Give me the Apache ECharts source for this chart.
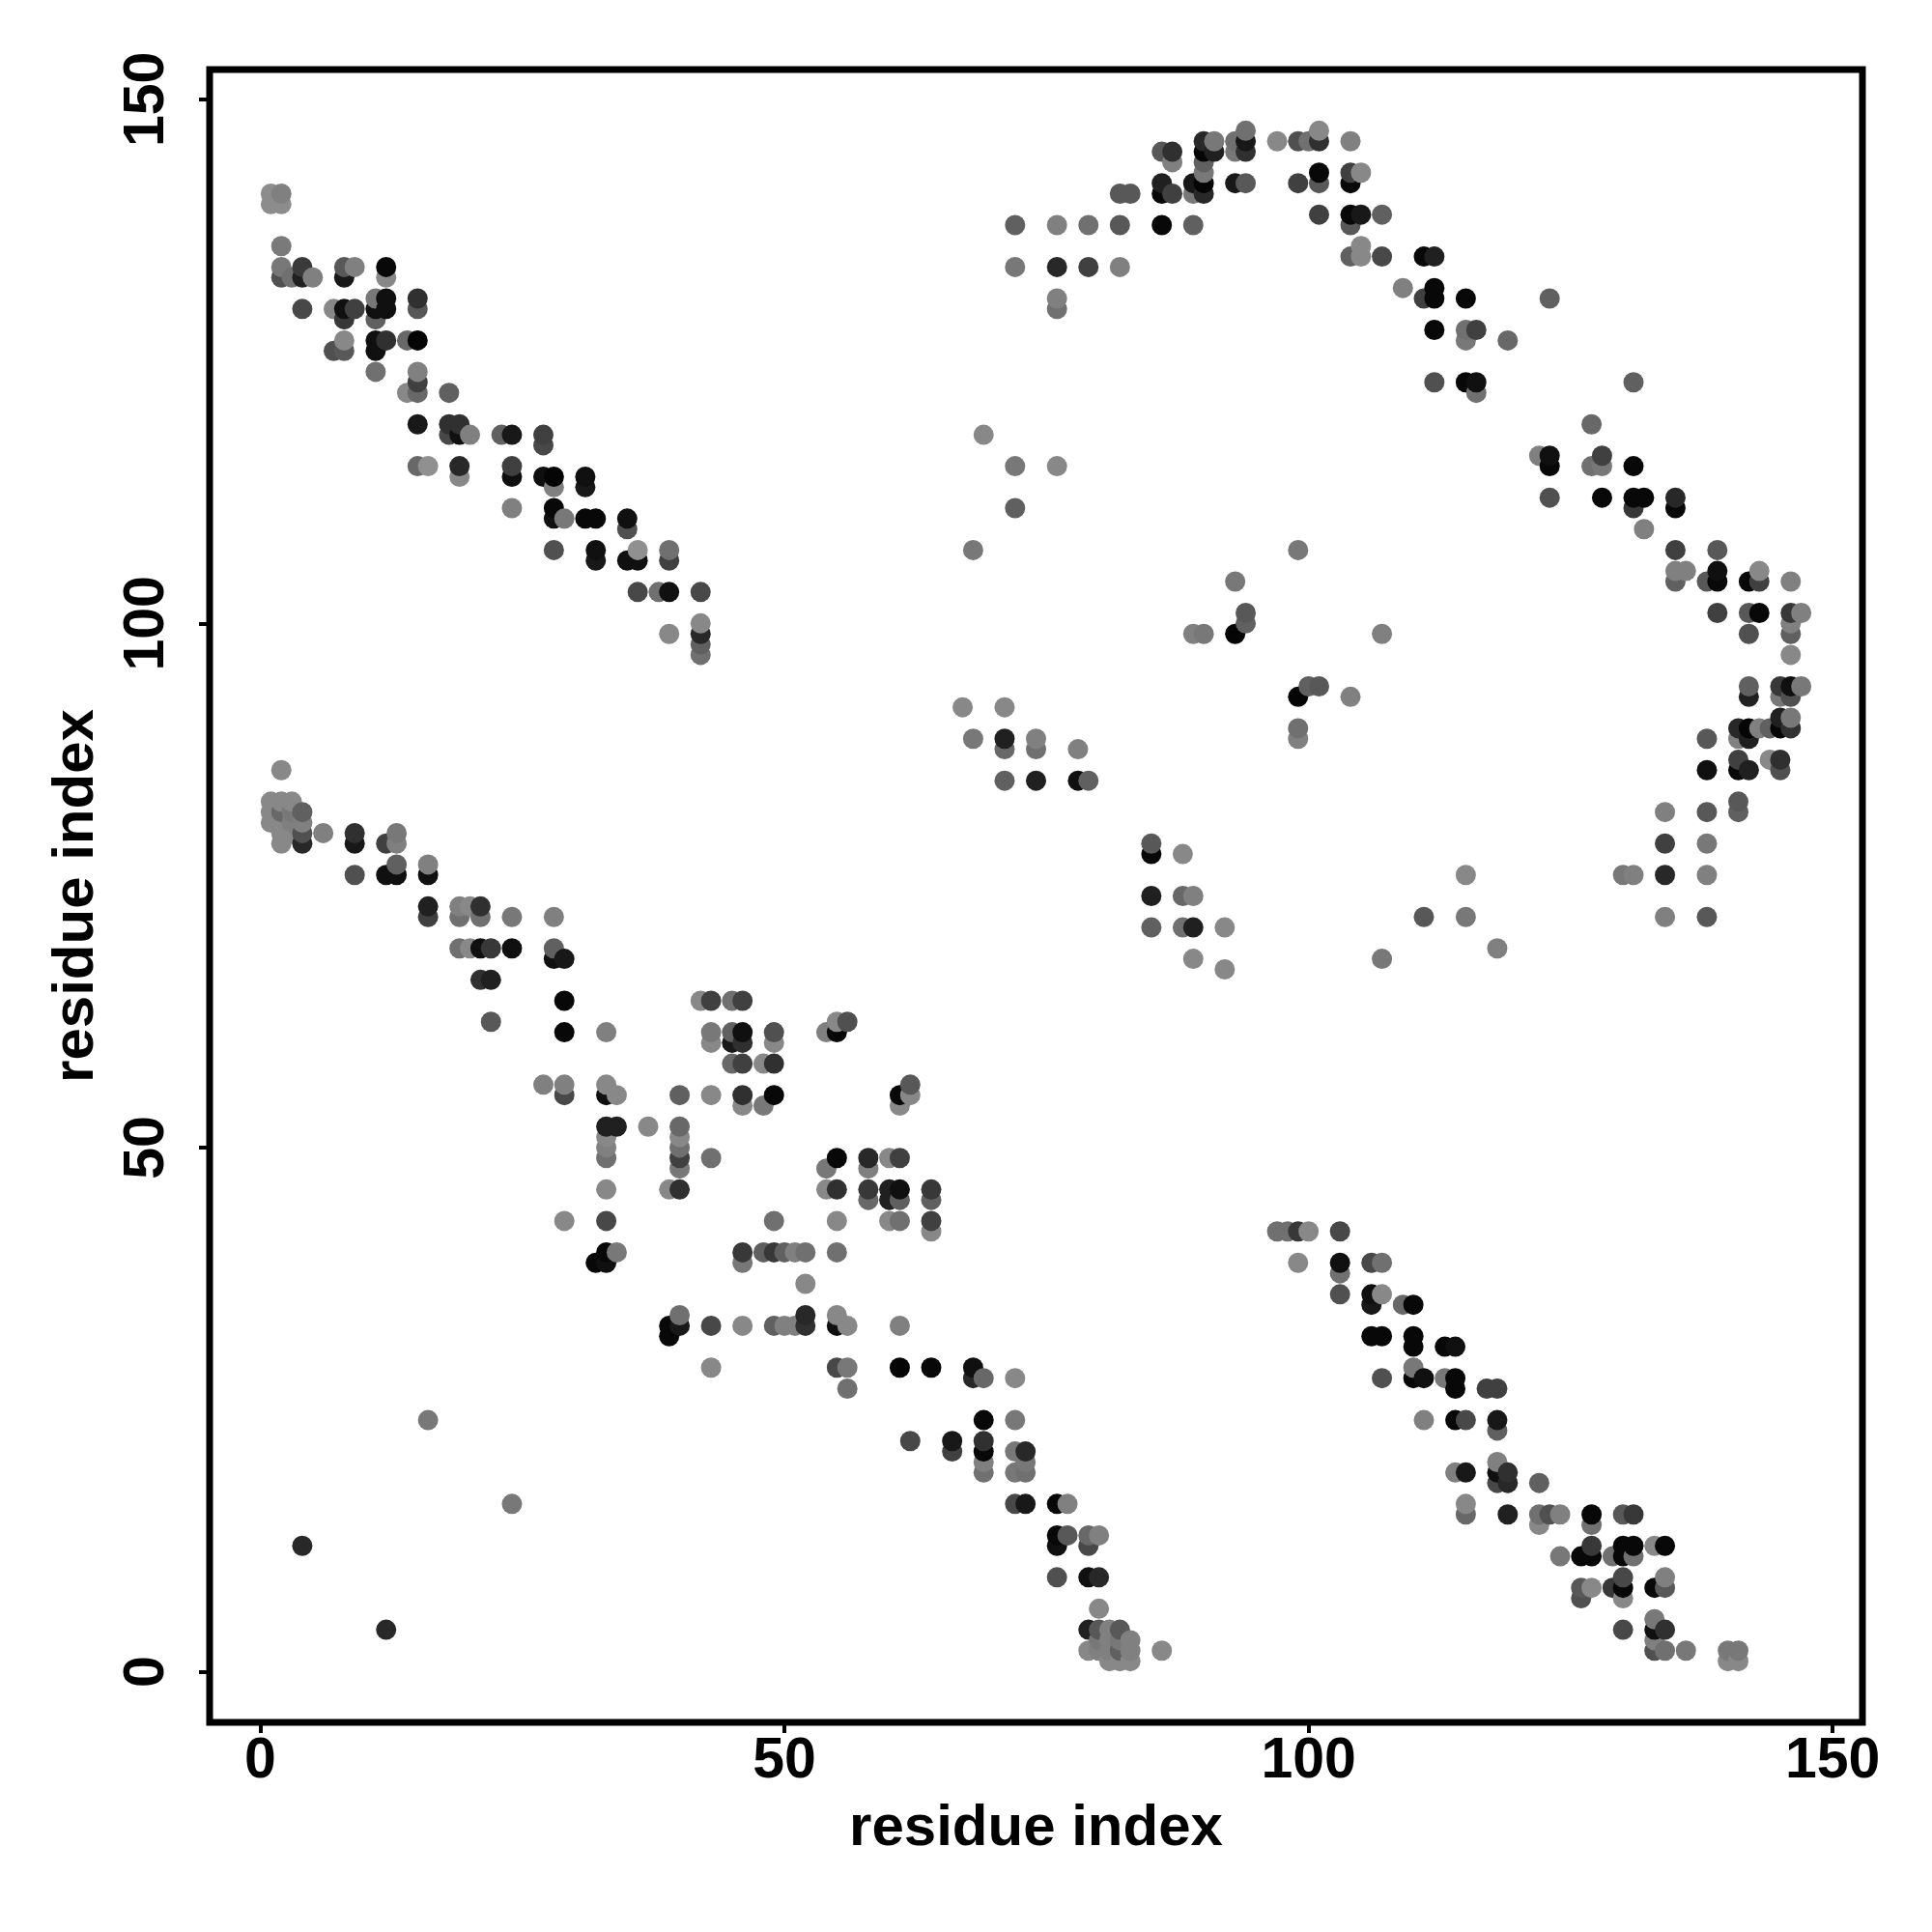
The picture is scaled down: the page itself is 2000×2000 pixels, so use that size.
<!DOCTYPE html>
<html>
<head>
<meta charset="utf-8">
<style>html,body{margin:0;padding:0;background:#fff}#c{width:2000px;height:2000px}</style>
<script src="https://cdn.jsdelivr.net/npm/echarts@6/dist/echarts.min.js"></script>
</head>
<body>
<div id="c"></div>
<script>
// Each contact: [residue x, residue y, grey level 0-255]
const upperLeftBand = [
[1,141,0x8c],[1,140,0x8c],[2,141,0x80],[2,140,0x8c],[2,136,0x7a],[2,134,0x78],[2,133,0x50],[3,133,0x70],[4,134,0x3a],[4,133,0x20],[5,133,0x80],[4,130,0x48],
[7,130,0x88],[8,130,0x10],[9,130,0x40],[8,129,0x38],[8,134,0x58],[9,134,0x80],[8,133,0x18],[12,134,0x08],[12,133,0x88],[11,131,0x78],[12,131,0x10],[11,130,0x10],[12,130,0x10],[11,129,0x60],
[11,127,0x10],[12,127,0x30],[11,126,0x10],[11,124,0x70],[8,127,0x88],[7,126,0x50],[8,126,0x58],[14,127,0x68],[15,127,0x05],[15,131,0x30],[15,130,0x58],[15,124,0x80],[15,123,0x40],[14,122,0x88],[15,122,0x68],
[18,122,0x60],[15,119,0x18],[18,119,0x30],[19,119,0x30],[18,118,0x48],[19,118,0x10],[20,118,0x80],[23,118,0x60],[24,118,0x18],[27,118,0x40],[27,117,0x48],[15,115,0x68],[16,115,0x90],[19,115,0x28],[19,114,0x88],
[24,115,0x40],[24,114,0x10],[27,114,0x10],[28,114,0x05],[28,113,0x80],[31,114,0x10],[31,113,0x18],[24,111,0x80],[28,111,0x08],[28,110,0x10],[29,110,0x78],[31,110,0x08],[32,110,0x08],[35,110,0x10],[35,109,0x50],
[28,107,0x50],[32,107,0x10],[32,106,0x18],[35,106,0x10],[36,106,0x10],[36,107,0x90],[39,107,0x70],[39,106,0x40],[36,103,0x48],[38,103,0x70],[39,103,0x10],[42,103,0x48],[42,100,0x88],[42,99,0x28],[42,98,0x60],[42,97,0x70],[39,99,0x88]
];
const midLeftBand = [
[2,86,0x88],[1,83,0x88],[1,82,0x88],[1,81,0x88],[2,83,0x88],[2,82,0x68],[2,81,0x88],[2,80,0x88],[2,79,0x88],[3,83,0x88],[3,82,0x78],[3,81,0x80],[3,80,0x88],[4,82,0x60],[4,81,0x80],[4,80,0x50],[4,79,0x28],
[6,80,0x80],[9,80,0x30],[9,79,0x18],[12,79,0x40],[13,79,0x80],[13,80,0x78],[13,77,0x60],[12,76,0x10],[13,76,0x10],[9,76,0x50],[16,77,0x80],[16,76,0x10],[16,73,0x20],[16,72,0x40],
[19,73,0x80],[20,73,0x88],[21,73,0x30],[19,72,0x70],[21,72,0x70],[24,72,0x78],[28,72,0x80],[19,69,0x70],[20,69,0x88],[21,69,0x10],[22,69,0x38],[24,69,0x10],[28,69,0x60],[28,68,0x10],[29,68,0x18],
[21,66,0x30],[22,66,0x20],[22,62,0x58],[29,64,0x08],[29,61,0x08]
];
const centralBlock = [
[33,61,0x80],[42,64,0x88],[43,64,0x40],[45,64,0x70],[46,64,0x40],[43,61,0x78],[43,60,0x88],[45,61,0x60],[46,61,0x10],[45,60,0x18],[46,60,0x30],[49,61,0x50],[49,60,0x88],
[45,58,0x68],[46,58,0x40],[48,58,0x88],[49,58,0x30],[46,55,0x30],[49,55,0x08],[43,55,0x88],[46,54,0x88],[48,54,0x78],[27,56,0x80],[29,56,0x80],[29,55,0x48],[33,56,0x88],[33,55,0x10],[34,55,0x88],[40,55,0x60],
[33,52,0x20],[34,52,0x20],[37,52,0x88],[40,52,0x68],[33,51,0x88],[33,50,0x80],[33,49,0x70],[40,51,0x88],[40,50,0x70],[40,49,0x40],[40,48,0x78],[43,49,0x70],[33,46,0x88],[39,46,0x88],[40,46,0x30],[29,43,0x88],[33,43,0x48],
[32,39,0x08],[33,40,0x08],[33,39,0x10],[34,40,0x78],[46,40,0x38],[46,39,0x78],[48,40,0x60],[49,40,0x38],[50,40,0x60],[51,40,0x80],[52,40,0x70],[52,37,0x88],[55,40,0x70],[49,43,0x70],
[54,61,0x80],[55,61,0x08],[55,62,0x88],[56,62,0x50],[61,55,0x08],[62,56,0x58],[62,55,0x88],[61,54,0x88],[55,49,0x08],[54,48,0x78],[54,46,0x88],[55,46,0x30],[58,49,0x28],[58,48,0x80],[58,46,0x38],[58,45,0x68],
[60,49,0x88],[61,49,0x40],[60,46,0x20],[61,46,0x10],[60,45,0x20],[61,45,0x60],[64,46,0x38],[64,45,0x60],[55,43,0x88],[60,43,0x88],[61,43,0x70],[64,43,0x40],[64,42,0x88],
[39,33,0x08],[40,33,0x18],[40,34,0x70],[39,32,0x08],[43,33,0x48],[46,33,0x88],[49,33,0x60],[50,33,0x80],[51,33,0x80],[52,33,0x30],[52,34,0x28],[55,34,0x88],[55,33,0x10],[56,33,0x88],[61,33,0x80],
[43,29,0x88],[55,29,0x48],[56,29,0x78],[56,27,0x70],[61,29,0x05],[64,29,0x08]
];
const scatteredLowerLeft = [[16,24,0x78],[24,16,0x78],[4,12,0x28],[12,4,0x28]];
const lowerDiagonal = [
[62,22,0x48],[66,22,0x18],[66,21,0x40],[68,29,0x10],[68,28,0x28],[69,28,0x68],[72,28,0x88],[69,24,0x08],[72,24,0x78],[69,22,0x30],[69,21,0x08],[69,20,0x80],[69,19,0x70],[72,21,0x78],[73,21,0x28],[73,20,0x78],[72,19,0x78],[73,19,0x70],
[72,16,0x48],[73,16,0x18],[76,16,0x08],[77,16,0x80],[76,13,0x08],[76,12,0x10],[77,13,0x58],[79,13,0x68],[80,13,0x80],[79,12,0x48],[76,9,0x50],[79,9,0x10],[80,9,0x28],[80,6,0x88],
[79,4,0x20],[80,4,0x58],[81,4,0x80],[82,4,0x58],[83,3,0x80],[79,2,0x88],[80,3,0x78],[80,2,0x80],[81,3,0x80],[81,2,0x80],[82,3,0x78],[82,2,0x60],[83,2,0x80],[81,1,0x88],[82,1,0x88],[83,1,0x88],[86,2,0x88]
];
const lowerRightBand = [
[97,42,0x70],[98,42,0x70],[99,42,0x38],[100,42,0x88],[103,42,0x48],[99,39,0x88],[103,39,0x10],[103,38,0x70],[103,36,0x50],[106,39,0x48],[107,39,0x70],[106,36,0x10],[107,36,0x88],[106,35,0x18],[109,35,0x68],[110,35,0x08],
[106,32,0x08],[107,32,0x08],[110,32,0x08],[110,31,0x08],[113,31,0x08],[114,31,0x10],[107,28,0x50],[110,29,0x78],[110,28,0x08],[111,28,0x10],[113,28,0x78],[114,28,0x08],[114,27,0x08],[117,27,0x40],[118,27,0x40],
[111,24,0x80],[114,24,0x08],[115,24,0x48],[118,24,0x18],[118,23,0x60],[114,19,0x80],[115,19,0x18],[118,20,0x80],[118,19,0x10],[119,19,0x30],[118,18,0x48],[119,18,0x28],[122,18,0x60],[115,16,0x88],[115,15,0x68],[119,15,0x20],
[122,15,0x70],[122,14,0x88],[123,15,0x50],[124,15,0x80],[127,15,0x08],[127,14,0x70],[130,15,0x58],[131,15,0x38],[124,11,0x78],[126,11,0x08],[127,12,0x38],[127,11,0x08],[129,11,0x70],[130,12,0x08],[130,11,0x08],[131,12,0x08],[131,11,0x70],[133,12,0x88],[134,12,0x08],
[126,8,0x58],[126,7,0x50],[127,8,0x88],[129,8,0x38],[130,9,0x48],[130,8,0x08],[130,7,0x88],[133,8,0x08],[134,9,0x80],[134,8,0x58],[130,4,0x48],[133,5,0x78],[133,4,0x10],[134,4,0x30],[133,3,0x80],[133,2,0x50],[134,2,0x70],[136,2,0x78],[140,2,0x78],[141,2,0x78],[140,1,0x88],[141,1,0x88]
];
const upperArc = [
[72,138,0x60],[76,138,0x80],[79,138,0x70],[82,138,0x58],[86,138,0x08],[89,138,0x60],[72,134,0x78],[76,134,0x28],[79,134,0x40],[82,134,0x80],[76,131,0x80],[76,130,0x70],[82,141,0x58],[83,141,0x58],
[86,145,0x58],[87,145,0x30],[87,144,0x80],[86,142,0x20],[86,141,0x08],[87,141,0x40],[89,142,0x18],[90,142,0x05],[89,141,0x78],[90,141,0x28],[90,146,0x28],[90,145,0x05],[91,146,0x78],[91,145,0x20],[90,144,0x60],[90,143,0x78],
[93,146,0x70],[93,145,0x78],[94,147,0x70],[94,146,0x18],[94,145,0x30],[93,142,0x18],[94,142,0x58],[97,146,0x88],[99,146,0x50],[100,146,0x70],[101,146,0x30],[101,147,0x88],[104,146,0x80],
[99,142,0x40],[101,143,0x08],[101,142,0x58],[104,143,0x40],[104,142,0x08],[105,143,0x88],[101,139,0x40],[104,139,0x08],[105,139,0x18],[107,139,0x60],[104,138,0x58],[104,135,0x60],[105,136,0x88],[105,135,0x88],[107,135,0x48],[109,132,0x80]
];
const rightArc = [
[111,135,0x08],[112,135,0x20],[111,131,0x40],[112,132,0x08],[112,131,0x08],[115,131,0x08],[112,128,0x08],[115,128,0x70],[115,127,0x78],[116,128,0x40],[119,127,0x68],[123,131,0x60],[112,123,0x50],[115,123,0x08],[116,123,0x10],[116,122,0x70],[131,123,0x60],[127,119,0x68],
[122,116,0x80],[123,116,0x10],[123,115,0x08],[127,115,0x70],[128,116,0x40],[128,115,0x78],[131,115,0x08],[123,112,0x50],[128,112,0x08],[131,112,0x08],[132,112,0x08],[131,111,0x38],[135,112,0x28],[135,111,0x08],[132,109,0x80],
[135,107,0x40],[139,107,0x58],[139,105,0x10],[139,104,0x08],[138,104,0x58],[135,105,0x80],[136,105,0x80],[135,104,0x60],[142,104,0x08],[143,104,0x40],[143,105,0x88],[146,104,0x80],[139,101,0x40],[142,101,0x58],[143,101,0x08],[146,101,0x38],[147,101,0x80],[146,100,0x80],[146,99,0x60],[142,99,0x50],[146,97,0x88],
[142,94,0x60],[142,93,0x20],[145,94,0x38],[146,94,0x10],[147,94,0x78],[145,93,0x78],[146,93,0x50],[145,91,0x20],[146,91,0x78],[145,90,0x05],[146,90,0x30],[141,90,0x28],[142,90,0x05],[143,90,0x80],[144,90,0x60],[141,89,0x80],[142,89,0x20],[138,89,0x58],
[141,87,0x40],[141,86,0x08],[142,86,0x20],[138,86,0x10],[144,87,0x88],[145,87,0x30],[145,86,0x50],[141,83,0x58],[141,82,0x60],[138,82,0x58],[134,82,0x80],[134,79,0x40],[138,79,0x78],[130,76,0x78],[131,76,0x80],[134,76,0x28],[138,76,0x80],[115,76,0x88],[111,72,0x58],[115,72,0x78],[134,72,0x80],[138,72,0x58],[118,69,0x80]
];
const innerScatter = [
[69,118,0x88],[72,115,0x78],[76,115,0x88],[72,111,0x60],[68,107,0x78],[99,107,0x78],[93,104,0x78],[94,101,0x58],[94,100,0x60],[89,99,0x80],[90,99,0x78],[93,99,0x05],[107,99,0x80],[99,93,0x05],[100,94,0x60],[101,94,0x58],[104,93,0x80],[99,90,0x70],[99,89,0x80],
[67,92,0x88],[71,92,0x88],[68,89,0x78],[71,89,0x20],[71,88,0x68],[74,89,0x80],[74,88,0x70],[78,88,0x80],[71,85,0x60],[74,85,0x20],[78,85,0x10],[79,85,0x60],[85,79,0x58],[85,78,0x08],[88,78,0x88],[85,74,0x20],[88,74,0x68],[89,74,0x80],[85,71,0x60],[88,71,0x70],[89,71,0x20],[92,71,0x88],[89,68,0x88],[92,67,0x88],[107,68,0x78]
];
const tickValues = [0, 50, 100, 150];
const axisTitle = 'residue index';

const contacts = [].concat(upperLeftBand, midLeftBand, centralBlock, scatteredLowerLeft, lowerDiagonal, lowerRightBand, upperArc, rightArc, innerScatter)
  .sort((a, b) => a[0] - b[0] || a[1] - b[1]);

const FONT = '"Liberation Sans", Arial, sans-serif';
const axisCommon = {
  type: 'value', min: -4.84, max: 152.84,
  name: axisTitle, nameLocation: 'middle',
  nameTextStyle: { fontFamily: FONT, fontWeight: 'bold', fontSize: 60, color: '#000' },
  axisLine: { show: false, onZero: false },
  splitLine: { show: false },
  axisTick: { show: true, length: 11, inside: false, customValues: tickValues, lineStyle: { color: '#000', width: 4 } },
};
const chart = echarts.init(document.getElementById('c'), null, { renderer: 'canvas' });
chart.setOption({
  animation: false,
  backgroundColor: '#fff',
  grid: { left: 217, top: 72, width: 1711, height: 1711, show: true, borderColor: '#000', borderWidth: 7, backgroundColor: 'transparent' },
  xAxis: Object.assign({}, axisCommon, {
    nameGap: 80,
    axisLabel: { customValues: tickValues, margin: 11, fontFamily: FONT, fontWeight: 'bold', fontSize: 59, color: '#000' },
  }),
  yAxis: Object.assign({}, axisCommon, {
    nameGap: 108, nameRotate: 90,
    axisLabel: { customValues: tickValues, margin: 35, rotate: 90, fontFamily: FONT, fontWeight: 'bold', fontSize: 59, color: '#000' },
  }),
  series: [{
    type: 'scatter', symbol: 'circle', symbolSize: 21, silent: true, clip: false,
    data: contacts.map(c => ({ value: [c[0], c[1]], itemStyle: { color: `rgb(${c[2]},${c[2]},${c[2]})`, opacity: 1 } })),
  }],
});
</script>
</body>
</html>
